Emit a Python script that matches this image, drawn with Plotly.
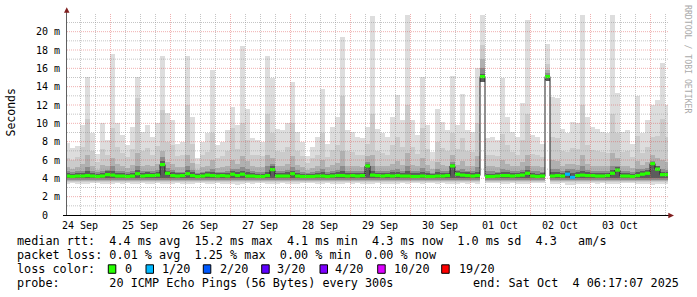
import plotly.graph_objects as go
import pandas as pd

# ---------------- data: 2-hour bins starting 2025-09-24 06:00, values in ms ----------------
BIN0 = "2025-09-24 06:00"
BIN_HOURS = 2

median_rtt = [
    4.25, 4.2, 4.25, 4.25, 4.3, 4.25, 4.2, 4.25, 4.4, 4.35,
    4.25, 4.25, 4.2, 4.25, 4.5, 4.25, 4.3, 4.3, 4.35, 5.5,
    4.55, 4.3, 4.25, 4.3, 4.5, 4.3, 4.2, 4.25, 4.35, 4.3,
    4.25, 4.3, 4.25, 4.45, 4.3, 4.45, 4.25, 4.25, 4.2, 4.2,
    4.3, 4.95, 4.25, 4.25, 4.25, 4.5, 4.25, 4.2, 4.2, 4.2,
    4.25, 4.25, 4.2, 4.25, 4.3, 4.3, 4.25, 4.3, 4.25, 4.3,
    5.35, 4.35, 4.3, 4.25, 4.3, 4.25, 4.3, 4.25, 4.25, 4.2,
    4.2, 4.25, 4.2, 4.2, 4.25, 4.25, 4.3, 5.35, 4.45, 4.35,
    4.3, 4.25, 4.3, 15.1, 4.2, 4.2, 4.25, 4.3, 4.3, 4.25,
    4.3, 4.35, 4.55, 4.25, 4.2, 4.25, 15.1, 4.25, 4.3, 4.25,
    4.45, 4.1, 4.3, 4.35, 4.3, 4.3, 4.25, 4.25, 4.3, 4.55,
    4.9, 4.25, 4.25, 4.2, 4.3, 4.45, 4.55, 5.6, 5.0, 4.4,
    4.4,
]

loss_pings = [
    0, 0, 0, 0, 0, 0, 0, 0, 0, 0,
    0, 0, 0, 0, 0, 0, 0, 0, 0, 0,
    0, 0, 0, 0, 0, 0, 0, 0, 0, 0,
    0, 0, 0, 0, 0, 0, 0, 0, 0, 0,
    0, 0, 0, 0, 0, 0, 0, 0, 0, 0,
    0, 0, 0, 0, 0, 0, 0, 0, 0, 0,
    0, 0, 0, 0, 0, 0, 0, 0, 0, 0,
    0, 0, 0, 0, 0, 0, 0, 0, 0, 0,
    0, 0, 0, 0, 0, 0, 0, 0, 0, 0,
    0, 0, 0, 0, 0, 0, 0, 0, 0, 0,
    1, 1, 0, 0, 0, 0, 0, 0, 0, 0,
    0, 0, 0, 0, 0, 0, 0, 0, 0, 0,
    0,
]

ping_min = [
    3.4, 3.45, 3.4, 3.35, 3.4, 3.45, 3.5, 3.4, 3.35, 3.4,
    3.45, 3.4, 3.5, 3.4, 3.35, 3.45, 3.4, 3.4, 3.45, 3.4,
    3.35, 3.4, 3.45, 3.4, 3.4, 3.35, 3.5, 3.45, 3.4, 3.4,
    3.45, 3.4, 3.4, 3.35, 3.3, 3.4, 3.45, 3.4, 3.45, 3.5,
    3.4, 3.35, 3.4, 3.45, 3.4, 3.35, 3.4, 3.45, 3.5, 3.45,
    3.4, 3.4, 3.45, 3.4, 3.35, 3.4, 3.45, 3.4, 3.45, 3.4,
    3.35, 3.4, 3.45, 3.4, 3.4, 3.35, 3.4, 3.45, 3.4, 3.45,
    3.5, 3.4, 3.45, 3.5, 3.4, 3.45, 3.4, 3.35, 3.4, 3.45,
    3.4, 3.45, 3.4, 14.5, 3.45, 3.5, 3.45, 3.4, 3.4, 3.45,
    3.4, 3.4, 3.35, 3.45, 3.5, 3.45, 14.6, 3.4, 3.4, 3.45,
    3.3, 3.3, 3.35, 3.4, 3.4, 3.45, 3.4, 3.45, 3.4, 3.35,
    3.4, 3.45, 3.45, 3.5, 3.4, 3.4, 3.35, 3.3, 3.35, 3.4,
    3.4,
]

ping_p8 = [
    4.6, 4.5, 4.55, 4.6, 4.75, 4.6, 4.5, 4.6, 4.75, 4.8,
    4.6, 4.55, 4.5, 4.6, 4.9, 4.6, 4.65, 4.6, 4.7, 5.9,
    4.85, 4.65, 4.55, 4.6, 4.9, 4.65, 4.5, 4.55, 4.65, 4.7,
    4.55, 4.6, 4.6, 4.75, 4.7, 4.8, 4.65, 4.55, 4.5, 4.5,
    4.7, 5.3, 4.6, 4.6, 4.65, 4.85, 4.6, 4.5, 4.45, 4.5,
    4.55, 4.65, 4.5, 4.6, 4.65, 4.75, 4.6, 4.6, 4.55, 4.6,
    5.6, 4.75, 4.6, 4.55, 4.6, 4.65, 4.7, 4.6, 4.75, 4.6,
    4.55, 4.7, 4.55, 4.45, 4.65, 4.6, 4.6, 5.6, 4.75, 4.7,
    4.65, 4.6, 4.7, 15.4, 4.5, 4.5, 4.55, 4.7, 4.65, 4.6,
    4.6, 4.65, 4.9, 4.6, 4.5, 4.55, 15.3, 4.65, 4.65, 4.6,
    4.8, 4.6, 4.7, 4.75, 4.65, 4.6, 4.6, 4.55, 4.6, 4.9,
    5.2, 4.6, 4.6, 4.5, 4.65, 4.8, 4.9, 5.8, 5.3, 4.7,
    4.7,
]

ping_p6 = [
    4.75, 4.7, 4.75, 4.85, 5.2, 4.8, 4.65, 4.85, 4.9, 5.3,
    4.85, 4.75, 4.7, 4.8, 5.4, 4.8, 4.85, 4.75, 4.9, 6.3,
    5.1, 4.9, 4.7, 4.7, 5.4, 4.9, 4.6, 4.7, 4.8, 5.0,
    4.7, 4.7, 4.8, 5.0, 5.0, 5.2, 5.0, 4.75, 4.7, 4.7,
    5.3, 5.6, 4.8, 4.8, 4.9, 5.2, 4.9, 4.7, 4.6, 4.65,
    4.75, 5.0, 4.7, 4.8, 4.9, 5.4, 4.8, 4.8, 4.75, 4.75,
    5.8, 5.3, 4.8, 4.75, 4.75, 4.9, 5.0, 4.85, 5.4, 4.85,
    4.75, 5.1, 4.85, 4.6, 5.0, 4.85, 4.8, 5.8, 4.9, 5.0,
    4.8, 4.8, 5.2, 16.0, 4.75, 4.75, 4.7, 5.0, 4.9, 4.8,
    4.75, 4.9, 5.3, 4.8, 4.75, 4.7, 15.5, 5.0, 5.0, 4.8,
    5.0, 5.0, 4.9, 5.3, 4.9, 4.8, 4.8, 4.8, 4.75, 5.4,
    5.4, 4.8, 4.8, 4.7, 5.0, 5.0, 5.1, 5.9, 5.4, 5.0,
    4.9,
]

ping_p4 = [
    5.2, 5.0, 5.2, 5.6, 6.5, 5.4, 4.9, 5.5, 5.3, 6.2,
    5.6, 5.3, 5.1, 5.5, 6.8, 5.4, 5.5, 5.3, 5.6, 7.0,
    5.8, 5.6, 5.2, 5.2, 6.6, 5.7, 4.9, 5.2, 5.4, 6.0,
    5.1, 5.2, 5.4, 6.0, 5.6, 6.4, 5.9, 5.3, 5.2, 5.2,
    6.6, 6.2, 5.4, 5.4, 5.6, 6.4, 5.5, 5.2, 4.9, 5.1,
    5.3, 6.0, 5.2, 5.5, 5.7, 7.0, 5.4, 5.4, 5.3, 5.2,
    6.4, 6.5, 5.4, 5.3, 5.3, 5.6, 5.9, 5.5, 6.8, 5.5,
    5.3, 6.2, 5.5, 5.0, 5.8, 5.5, 5.4, 6.6, 5.5, 5.9,
    5.4, 5.4, 6.4, 17.0, 5.3, 5.3, 5.2, 6.0, 5.6, 5.4,
    5.3, 5.8, 6.6, 5.3, 5.3, 5.2, 15.8, 6.0, 5.9, 5.4,
    5.6, 5.6, 5.5, 6.6, 5.6, 5.4, 5.4, 5.4, 5.3, 6.8,
    6.2, 5.4, 5.4, 5.1, 5.9, 5.5, 5.8, 6.6, 6.2, 6.0,
    5.8,
]

ping_p2 = [
    6.2, 6.0, 6.3, 7.4, 10.5, 7.0, 5.8, 7.2, 6.6, 9.5,
    7.4, 6.8, 6.3, 7.2, 12.8, 7.0, 7.3, 6.6, 7.5, 11.5,
    8.0, 7.6, 6.4, 6.5, 12.0, 7.8, 5.6, 6.5, 6.9, 9.0,
    6.2, 6.4, 7.0, 9.5, 7.2, 10.0, 8.2, 6.6, 6.5, 6.4,
    11.0, 9.0, 7.0, 6.9, 7.4, 10.0, 7.0, 6.4, 5.7, 6.2,
    6.6, 9.0, 6.3, 7.1, 7.6, 13.0, 7.0, 6.9, 6.6, 6.5,
    7.8, 11.0, 7.0, 6.8, 6.6, 7.6, 8.5, 7.4, 12.0, 7.4,
    6.7, 9.5, 7.2, 5.9, 8.0, 7.3, 7.0, 9.0, 7.2, 8.4,
    7.0, 6.9, 10.0, 18.5, 6.6, 6.6, 6.4, 8.8, 7.6, 6.9,
    6.6, 8.2, 11.0, 6.7, 6.6, 6.3, 16.5, 8.5, 8.4, 7.0,
    6.9, 7.3, 7.2, 12.0, 7.6, 7.1, 7.0, 6.9, 6.8, 11.0,
    9.0, 6.9, 7.0, 6.3, 8.6, 6.8, 7.4, 8.5, 8.6, 10.5,
    8.5,
]

ping_max = [
    7.9, 7.3, 7.5, 9.8, 15.1, 8.9, 6.7, 10.0, 8.2, 17.6,
    10.0, 8.7, 7.6, 9.6, 15.1, 9.1, 9.8, 8.5, 10.0, 17.4,
    11.1, 10.4, 7.8, 8.0, 17.3, 10.7, 6.2, 8.0, 8.9, 15.8,
    7.6, 8.0, 9.3, 11.8, 9.8, 18.4, 11.6, 8.4, 8.2, 8.0,
    17.4, 14.9, 9.4, 9.3, 10.0, 14.5, 9.1, 8.0, 6.4, 7.4,
    8.5, 13.7, 7.8, 9.6, 10.7, 19.4, 9.3, 9.1, 8.5, 8.4,
    9.6, 21.7, 9.4, 8.9, 8.5, 10.7, 13.1, 10.4, 21.8, 10.4,
    8.7, 15.1, 9.8, 6.9, 11.6, 10.2, 9.3, 15.2, 9.8, 13.2,
    9.3, 9.1, 16.0, 21.8, 8.4, 8.5, 8.2, 15.0, 10.7, 9.1,
    8.5, 12.2, 21.3, 8.7, 8.5, 7.8, 18.7, 12.9, 12.8, 9.4,
    8.9, 10.2, 10.0, 21.8, 10.7, 9.6, 9.4, 9.1, 8.9, 21.8,
    13.3, 9.1, 9.3, 7.8, 13.0, 8.9, 10.4, 12.0, 12.6, 16.6,
    12.0,
]

day_labels = ["24 Sep", "25 Sep", "26 Sep", "27 Sep", "28 Sep",
              "29 Sep", "30 Sep", "01 Oct", "02 Oct", "03 Oct"]
day_label_times = ["2025-09-24 12:00", "2025-09-25 12:00", "2025-09-26 12:00",
                   "2025-09-27 12:00", "2025-09-28 12:00", "2025-09-29 12:00",
                   "2025-09-30 12:00", "2025-10-01 12:00", "2025-10-02 12:00",
                   "2025-10-03 12:00"]
y_tick_values = [0, 2, 4, 6, 8, 10, 12, 14, 16, 18, 20]
y_tick_labels = ["0\u00a0\u00a0", "2 m", "4 m", "6 m", "8 m", "10 m",
                 "12 m", "14 m", "16 m", "18 m", "20 m"]

loss_levels = [0, 1, 2, 3, 4, 10, 19]
loss_labels = ["0", "1/20", "2/20", "3/20", "4/20", "10/20", "19/20"]
loss_colors = ["#26ff00", "#00b8ff", "#0059ff", "#5e00ff", "#7e00ff", "#dd00ff", "#ff0000"]

legend_rtt = "median rtt:  4.4 ms avg  15.2 ms max  4.1 ms min  4.3 ms now  1.0 ms sd  4.3   am/s"
legend_loss = "packet loss: 0.01 % avg  1.25 % max  0.00 % min  0.00 % now"
legend_color_title = "loss color:"
legend_probe = "probe:       20 ICMP Echo Pings (56 Bytes) every 300s"
legend_end = "end: Sat Oct  4 06:17:07 2025"

# ---------------- geometry ----------------
W, H = 697, 297
L, R, T, B = 67, 29, 13, 82
PW, PH = W - L - R, H - T - B          # 601 x 202
X_START = pd.Timestamp("2025-09-24 06:48")
X_END = X_START + pd.Timedelta(days=PW / 60.0)
Y_MAX = PH / (183.33 / 20.0)

MONO = "DejaVu Sans Mono"
LEG_SIZE = 11.8


def px(x):
    return (x - L) / PW


def py(y):
    return (T + PH - y) / PH


n = len(median_rtt)
starts = pd.date_range(BIN0, periods=n, freq=f"{BIN_HOURS}h")
step = pd.Timedelta(hours=BIN_HOURS)
centers = [s + step / 2 for s in starts]
bar_w = BIN_HOURS * 3600 * 1000

fig = go.Figure()

# smoke bands (outer pairs lightest)
bands = [
    (ping_max, None, "#dddddd"),
    (ping_p2, 3.55, "#cbcbcb"),
    (ping_p4, 3.7, "#b0b0b0"),
    (ping_p6, 3.85, "#8c8c8c"),
    (ping_p8, 4.0, "#5c5c5c"),
]
for tops, floor, col in bands:
    bots = [pm if floor is None else max(floor, pm) for pm in ping_min]
    fig.add_trace(go.Bar(
        x=centers, y=[t - b for t, b in zip(tops, bots)], base=bots,
        width=bar_w, marker=dict(color=col, line=dict(width=0)),
        hoverinfo="skip", showlegend=False))

# median line (dark outline) as step
fig.add_trace(go.Scatter(
    x=list(starts) + [starts[-1] + step], y=median_rtt + [median_rtt[-1]],
    mode="lines", line=dict(shape="hv", color="#202020", width=1),
    hoverinfo="skip", showlegend=False))


def loss_color(v):
    c = loss_colors[0]
    for lv, cc in zip(loss_levels, loss_colors):
        if v >= lv:
            c = cc
    return c


segs = {}
for s, m, lp in zip(starts, median_rtt, loss_pings):
    c = loss_color(lp)
    xs, ys = segs.setdefault(c, ([], []))
    xs += [s, s + step, None]
    ys += [m, m, None]
for c, (xs, ys) in segs.items():
    fig.add_trace(go.Scatter(x=xs, y=ys, mode="lines",
                             line=dict(color=c, width=3.2),
                             hoverinfo="skip", showlegend=False))

# ---------------- grid (drawn above the data, as in rrdtool) ----------------
shapes = []
minor = dict(color="rgba(150,150,150,0.55)", width=1, dash="1px,1px")
major = dict(color="rgba(222,79,79,0.45)", width=1, dash="1px,1px")
half_px = pd.Timedelta(minutes=12)
for t in pd.date_range("2025-09-24 12:00", "2025-10-04 06:00", freq="6h"):
    shapes.append(dict(type="line", xref="x", yref="paper",
                       x0=t + half_px, x1=t + half_px, y0=0, y1=1,
                       line=major if t.hour == 0 else minor, layer="above"))
for v in range(1, 22):
    shapes.append(dict(type="line", xref="paper", yref="y", x0=0, x1=1,
                       y0=v, y1=v, line=major if v % 2 == 0 else minor,
                       layer="above"))

# axes lines and arrows
shapes.append(dict(type="line", xref="paper", yref="paper",
                   x0=px(66.5), x1=px(66.5), y0=py(215.5), y1=py(9),
                   line=dict(color="#606060", width=1), layer="above"))
shapes.append(dict(type="line", xref="paper", yref="paper",
                   x0=px(63), x1=px(669), y0=py(215.5), y1=py(215.5),
                   line=dict(color="#000000", width=1), layer="above"))
shapes.append(dict(type="path", xref="paper", yref="paper", layer="above",
                   path=f"M {px(64.0)},{py(12.8)} L {px(69.5)},{py(12.8)} L {px(66.75)},{py(7.2)} Z",
                   fillcolor="#801f1f", line=dict(width=0)))
shapes.append(dict(type="path", xref="paper", yref="paper", layer="above",
                   path=f"M {px(668.3)},{py(212.7)} L {px(668.3)},{py(218.3)} L {px(674)},{py(215.5)} Z",
                   fillcolor="#801f1f", line=dict(width=0)))

# legend colour boxes
box_x = [108.3, 146.0, 203.3, 261.7, 320.0, 377.7, 441.7]
lbl_x = [123.3, 160.7, 218.3, 276.0, 333.7, 392.3, 457.3]
for bx, col in zip(box_x, loss_colors):
    shapes.append(dict(type="rect", xref="paper", yref="paper",
                       x0=px(bx), x1=px(bx + 7.5), y0=py(273.3), y1=py(264.8),
                       fillcolor=col, line=dict(color="#000000", width=1)))

# ---------------- texts ----------------
ann = []


def txt(s, x, y, size=LEG_SIZE, color="#000000", anchor="left", angle=0):
    ann.append(dict(text=s.replace(" ", "\u00a0"), xref="paper", yref="paper",
                    x=px(x), y=py(y), xanchor=anchor, yanchor="middle",
                    showarrow=False, textangle=angle,
                    font=dict(family=MONO, size=size, color=color)))


txt(legend_rtt, 15.3, 241.5)
txt(legend_loss, 15.3, 255.2)
txt(legend_color_title, 15.3, 269)
for s, x in zip(loss_labels, lbl_x):
    txt(s, x - 0.8, 269)
txt(legend_probe, 15.3, 282.8)
txt(legend_end, 681, 282.8, anchor="right")

txt("Seconds", 10.5, 113, size=11.5, angle=-90, anchor="center")
txt("RRDTOOL / TOBI OETIKER", 688, 59, size=8.2, color="#aaaaaa", angle=90, anchor="center")

fig.update_layout(
    width=W, height=H, margin=dict(l=L, r=R, t=T, b=B, pad=0),
    paper_bgcolor="white", plot_bgcolor="white",
    barmode="overlay", bargap=0, showlegend=False,
    shapes=shapes, annotations=ann,
    xaxis=dict(type="date", range=[X_START, X_END], showgrid=False,
               zeroline=False, showline=False, ticks="",
               tickvals=day_label_times, ticktext=day_labels,
               tickfont=dict(family=MONO, size=10, color="#000000"),
               ticklabelstandoff=3),
    yaxis=dict(range=[0, Y_MAX], showgrid=False, zeroline=False,
               showline=False, ticks="", tickvals=y_tick_values,
               ticktext=y_tick_labels,
               tickfont=dict(family=MONO, size=10, color="#000000"),
               ticklabelstandoff=6),
)

fig.write_html("out.html")
